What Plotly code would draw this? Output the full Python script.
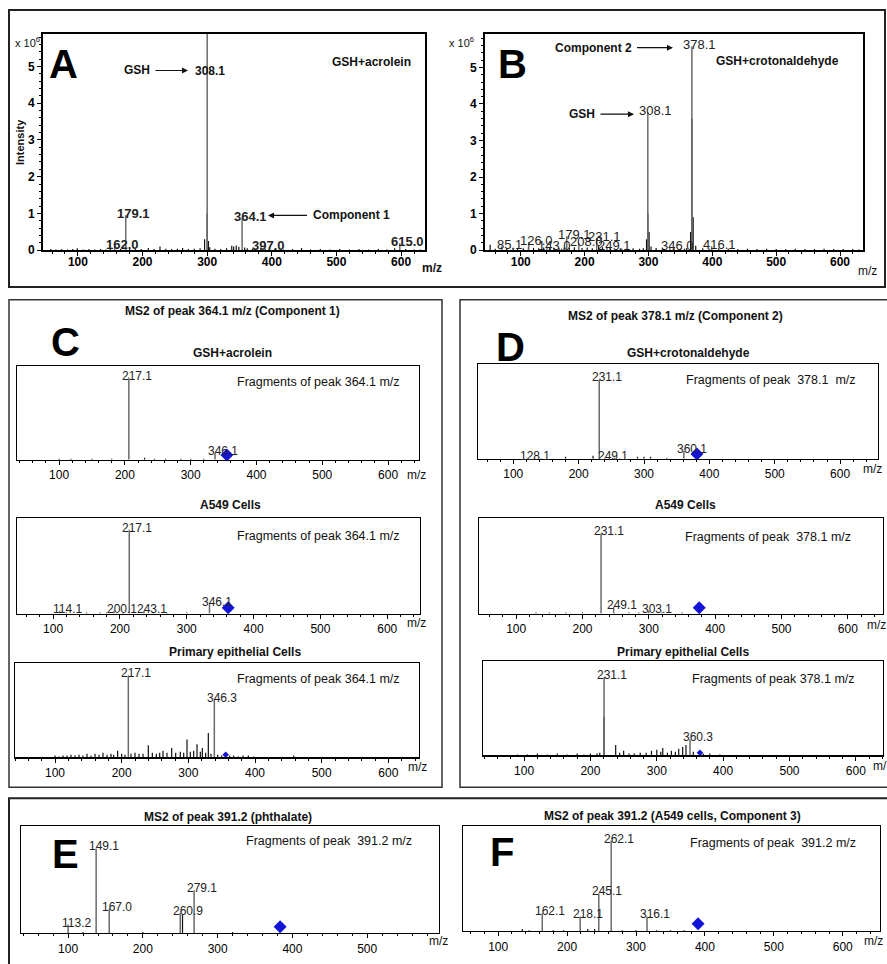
import plotly.graph_objects as go

W, H = 887, 964
FONT = "Arial, Liberation Sans, sans-serif"

# ------------------------------------------------------------------ data
# Panel A  (GSH + acrolein, full scan, intensity x 10^6)
A_mz = [300, 174, 157, 354, 383, 598]
A_int = [5.95, 0.95, 0.11, 0.86, 0.08, 0.19]
A_lab = ["", "179.1", "162.0", "364.1", "397.0", "615.0"]
A_noise = [(58, .03), (66, .02), (75, .03), (84, .02), (92, .03), (99, .05), (108, .02), (117, .03),
           (126, .02), (135, .03), (143, .02), (150, .05), (166, .03), (180, .04), (189, .03), (198, .03),
           (209, .06), (218, .03), (227, .10), (236, .04), (245, .03), (254, .04), (262, .06), (271, .03),
           (280, .04), (289, .05), (296, .30), (300, 1.00), (302, .25), (304, .08), (312, .04), (321, .03),
           (330, .05), (338, .12), (341, .10), (345, .13), (349, .09), (358, .07), (362, .05), (370, .04),
           (390, .03), (405, .03), (418, .02), (432, .03), (446, .06), (460, .02), (475, .03), (490, .02),
           (505, .03), (520, .02), (535, .03), (550, .02), (565, .03), (578, .02), (590, .05), (607, .03),
           (620, .02), (630, .02)]

# Panel B  (GSH + crotonaldehyde)
B_mz = [368, 299, 70, 112.5, 141, 172, 191, 219, 235, 333.5, 399]
B_int = [5.57, 3.77, 0.11, 0.22, 0.08, 0.38, 0.19, 0.33, 0.08, 0.08, 0.11]
B_lab = ["378.1", "308.1", "85.1", "126.0", "143.0", "179.1", "208.0", "231.1", "249.1", "346.0", "416.1"]
B_noise = [(52, .15), (60, .04), (70, .05), (78, .03), (88, .06), (95, .04), (104, .05), (112, .08),
           (120, .06), (128, .05), (136, .07), (145, .05), (152, .06), (160, .05), (168, .07), (176, .06),
           (184, .08), (196, .06), (204, .07), (212, .05), (222, .12), (228, .08), (240, .06), (256, .05),
           (266, .04), (276, .05), (286, .04), (292, .05), (297, .30), (299, 1.0), (301, .50), (304, .10),
           (312, .06), (322, .04), (340, .05), (350, .04), (360, .06), (366, .50), (368, 3.6), (370, .90),
           (374, .12), (385, .05), (395, .04), (410, .05), (425, .04), (440, .03), (455, .04), (470, .03),
           (485, .04), (500, .03), (515, .03), (530, .04), (545, .03), (560, .03), (575, .04), (590, .03),
           (605, .03), (620, .03), (630, .02)]

# Panel C  (MS2 of 364.1, relative intensity)
C1_mz = [206, 337]
C1_int = [0.88, 0.07]
C1_lab = ["217.1", "346.1"]
C1_noise = [(100, .01), (118, .01), (150, .01), (180, .01), (230, .02), (245, .01), (262, .01),
            (285, .01), (300, .01), (320, .01)]
C1_prec = (355, 0.05)

C2_mz = [214, 110, 191, 236, 334]
C2_int = [0.88, 0.03, 0.03, 0.03, 0.10]
C2_lab = ["217.1", "114.1", "200.1", "243.1", "346.1"]
C2_noise = [(120, .01), (150, .01), (170, .01), (180, .01), (205, .01), (250, .01), (270, .01), (300, .01)]
C2_prec = (362, 0.06)

C3_mz = [210, 339]
C3_int = [0.87, 0.61]
C3_lab = ["217.1", "346.3"]
C3_noise = [(100, .02), (106, .01), (112, .02), (118, .02), (124, .03), (130, .02), (136, .03), (142, .02),
            (148, .04), (154, .02), (160, .04), (166, .03), (172, .05), (178, .03), (184, .04), (188, .03),
            (194, .07), (200, .04), (205, .03), (214, .04), (220, .05), (226, .04), (232, .04), (240, .13),
            (246, .05), (252, .04), (257, .05), (262, .07), (268, .05), (275, .10), (281, .05), (288, .06),
            (293, .05), (298, .19), (303, .06), (308, .07), (313, .14), (318, .06), (321, .10), (326, .05),
            (330, .26), (334, .04), (344, .03), (350, .02), (362, .02), (368, .02), (375, .01), (382, .02),
            (390, .02), (398, .01), (458, .02)]
C3_prec = (356, 0.03)

# Panel D  (MS2 of 378.1)
D1_mz = [231.5, 361, 121, 240]
D1_int = [0.84, 0.08, 0.01, 0.01]
D1_lab = ["231.1", "360.1", "128.1", "249.1"]
D1_noise = [(180, .02), (222, .03), (255, .01), (290, .02), (300, .02), (310, .02), (335, .01)]
D1_prec = (381, 0.05)

D2_mz = [228, 247, 300]
D2_int = [0.84, 0.07, 0.03]
D2_lab = ["231.1", "249.1", "303.1"]
D2_noise = [(130, .01), (150, .01), (175, .01), (200, .01), (270, .01), (285, .01), (320, .01), (350, .01)]
D2_prec = (376, 0.06)

D3_mz = [220.5, 350]
D3_int = [0.83, 0.17]
D3_lab = ["231.1", "360.3"]
D3_noise = [(90, .01), (105, .01), (120, .02), (135, .01), (150, .02), (165, .01), (180, .02), (190, .01),
            (200, .02), (210, .02), (214, .03), (220.5, .41), (238, .11), (244, .03), (250, .05), (258, .02),
            (266, .02), (275, .03), (284, .03), (292, .05), (300, .06), (306, .04), (309, .08), (316, .03),
            (322, .05), (328, .04), (333, .07), (339, .09), (344, .11), (355, .04), (370, .02), (380, .02),
            (395, .01)]
D3_prec = (365, 0.03)

# Panel E  (MS2 of 391.2, phthalate)
E_mz = [137.5, 155, 100, 250, 268.5]
E_int = [0.79, 0.23, 0.08, 0.19, 0.40]
E_lab = ["149.1", "167.0", "113.2", "260.9", "279.1"]
E_noise = [(253, .17), (120, .01), (200, .01), (320, .01)]
E_prec = (383.5, 0.06)

# Panel F  (MS2 of 391.2, A549 cells, component 3)
F_mz = [264, 246, 164, 219, 316]
F_int = [0.86, 0.36, 0.17, 0.14, 0.14]
F_lab = ["262.1", "245.1", "162.1", "218.1", "316.1"]
F_noise = [(135, .02), (145, .01), (180, .01), (195, .01), (230, .02), (240, .02), (280, .01),
           (300, .01), (330, .01), (350, .01), (370, .01)]
F_prec = (390, 0.07)

# ------------------------------------------------------------------ layout helpers
def px(x):
    return x / W


def py(y):
    return 1 - y / H


panels = [
    dict(k="A", box=(43, 425, 34, 252), xr=[46, 637], yr=[0, 5.89], mz=A_mz, it=A_int, lab=A_lab,
         noise=A_noise, prec=None, big=True),
    dict(k="B", box=(485, 863, 34, 252), xr=[44, 636], yr=[0, 5.92], mz=B_mz, it=B_int, lab=B_lab,
         noise=B_noise, prec=None, big=True),
    dict(k="C1", box=(17, 419, 369, 463), xr=[36, 647], yr=[0, 1], mz=C1_mz, it=C1_int, lab=C1_lab,
         noise=C1_noise, prec=C1_prec, ps=10),
    dict(k="C2", box=(17, 420, 522, 618), xr=[46, 649], yr=[0, 1], mz=C2_mz, it=C2_int, lab=C2_lab,
         noise=C2_noise, prec=C2_prec, ps=10),
    dict(k="C3", box=(15, 419, 668, 763), xr=[40, 646], yr=[0, 1], mz=C3_mz, it=C3_int, lab=C3_lab,
         noise=C3_noise, prec=C3_prec, ps=5),
    dict(k="D1", box=(478, 878, 367, 462), xr=[46, 658], yr=[0, 1], mz=D1_mz, it=D1_int, lab=D1_lab,
         noise=D1_noise, prec=D1_prec, ps=10),
    dict(k="D2", box=(479, 883, 522, 618), xr=[44, 653], yr=[0, 1], mz=D2_mz, it=D2_int, lab=D2_lab,
         noise=D2_noise, prec=D2_prec, ps=10),
    dict(k="D3", box=(483, 883, 666, 761), xr=[38, 641], yr=[0, 1], mz=D3_mz, it=D3_int, lab=D3_lab,
         noise=D3_noise, prec=D3_prec, ps=5),
    dict(k="E", box=(21, 439, 832, 940), xr=[37, 596], yr=[0, 1], mz=E_mz, it=E_int, lab=E_lab,
         noise=E_noise, prec=E_prec, ps=10),
    dict(k="F", box=(463, 880, 832, 938), xr=[49, 654], yr=[0, 1], mz=F_mz, it=F_int, lab=F_lab,
         noise=F_noise, prec=F_prec, ps=10),
]


def stems(mz, h):
    xs, ys = [], []
    for m, v in zip(mz, h):
        xs += [m, m, None]
        ys += [0, v, None]
    return xs, ys


fig = go.Figure()
annotations = []
layout_axes = {}

for i, p in enumerate(panels):
    n = i + 1
    xa = "x" if n == 1 else f"x{n}"
    ya = "y" if n == 1 else f"y{n}"
    xkey = "xaxis" if n == 1 else f"xaxis{n}"
    ykey = "yaxis" if n == 1 else f"yaxis{n}"
    l, r, t, b = p["box"]
    big = p.get("big", False)
    lw = 1.8 if big else 1.3

    nz = [q[0] for q in p["noise"]]
    nh = [q[1] for q in p["noise"]]
    xs, ys = stems(nz, nh)
    fig.add_trace(go.Scatter(x=xs, y=ys, xaxis=xa, yaxis=ya, mode="lines",
                             line=dict(color="#111", width=1.2), hoverinfo="skip", showlegend=False))
    xs, ys = stems(p["mz"], p["it"])
    fig.add_trace(go.Scatter(x=xs, y=ys, xaxis=xa, yaxis=ya, mode="lines",
                             line=dict(color="#6a6a6a", width=1.5), hoverinfo="skip", showlegend=False))
    if p["prec"] is not None:
        fig.add_trace(go.Scatter(x=[p["prec"][0]], y=[p["prec"][1]], xaxis=xa, yaxis=ya, mode="markers",
                                 marker=dict(symbol="diamond", size=p["ps"], color="#1414d8"),
                                 hoverinfo="skip", showlegend=False, cliponaxis=False))

    for m, v, tx in zip(p["mz"], p["it"], p["lab"]):
        if not tx:
            continue
        annotations.append(dict(text=f"<b>{tx}</b>" if p["k"] == "A" else tx,
                                x=m, y=min(v, p["yr"][1]), xref=xa, yref=ya,
                                showarrow=False, xanchor="center", yanchor="middle",
                                xshift=8, yshift=2,
                                font=dict(family=FONT, size=13 if big else 12, color="#222")))

    tickfont = dict(family=FONT, size=12, color="black", weight="bold" if big else "normal")
    layout_axes[xkey] = dict(domain=[px(l), px(r)], range=p["xr"], anchor=ya, showgrid=False,
                             zeroline=False, showline=True, mirror=True, linecolor="black", linewidth=lw,
                             ticks="outside", tick0=0, dtick=100, ticklen=4, tickwidth=1,
                             tickcolor="black", tickfont=tickfont, fixedrange=True,
                             ticklabelstandoff=-4 if big else 0,
                             minor=dict(dtick=20, ticks="outside", ticklen=2, tickcolor="black"))
    yax = dict(domain=[py(b), py(t)], range=p["yr"], anchor=xa, showgrid=False, zeroline=False,
               showline=True, mirror=True, linecolor="black", linewidth=lw, fixedrange=True)
    if big:
        yax.update(ticks="outside", tick0=0, dtick=1, ticklen=4, tickcolor="black", tickfont=tickfont,
                   minor=dict(dtick=0.2, ticks="outside", ticklen=2, tickcolor="black"))
    else:
        yax.update(showticklabels=False, ticks="")
    layout_axes[ykey] = yax


def ann(text, x, y, size=12, bold=False, xanchor="center", color="#111", **kw):
    annotations.append(dict(text=f"<b>{text}</b>" if bold else text, x=px(x), y=py(y),
                            xref="paper", yref="paper", showarrow=False, xanchor=xanchor,
                            yanchor="middle", font=dict(family=FONT, size=size, color=color), **kw))


def arrow_label(text, text_x, head_x, y, size=12):
    annotations.append(dict(text=f"<b>{text}</b>", x=px(head_x), y=py(y), xref="paper", yref="paper",
                            showarrow=True, ax=text_x - head_x, ay=0, arrowhead=2, arrowsize=1.1,
                            arrowwidth=1.1, arrowcolor="#111", standoff=0, startstandoff=4,
                            font=dict(family=FONT, size=size, color="#111")))


# Panel A texts
ann("x 10<sup>6</sup>", 27, 42, size=11)
ann("A", 63, 64, size=40, bold=True, color="black")
arrow_label("GSH", 137, 188, 71)
ann("308.1", 210, 72, size=12, bold=True)
ann("GSH+acrolein", 371, 62, size=12, bold=True)
arrow_label("Component 1", 351, 268, 217)
ann("Intensity", 20, 143, size=11, bold=True, textangle=-90)
ann("m/z", 432, 270, size=12, bold=True)

# Panel B texts
ann("x 10<sup>6</sup>", 462, 42, size=11)
ann("B", 512, 64, size=40, bold=True, color="black")
arrow_label("Component 2", 593, 673, 48)
ann("GSH+crotonaldehyde", 777, 61, size=12, bold=True)
arrow_label("GSH", 582, 634, 115)
ann("m/z", 867, 273, size=12)

# Panel C texts
ann("MS2 of peak 364.1 m/z (Component 1)", 232, 313, size=12, bold=True)
ann("C", 65, 345, size=40, bold=True, color="black")
ann("GSH+acrolein", 232, 356, size=12, bold=True)
ann("Fragments of peak 364.1 m/z", 402, 385, size=12.5, xanchor="right")
ann("m/z", 416, 478, size=12)
ann("A549 Cells", 230, 509, size=12, bold=True)
ann("Fragments of peak 364.1 m/z", 402, 540, size=12.5, xanchor="right")
ann("m/z", 416, 628, size=12)
ann("Primary epithelial Cells", 235, 657, size=12, bold=True)
ann("Fragments of peak 364.1 m/z", 402, 684, size=12.5, xanchor="right")
ann("m/z", 417, 773, size=12)

# Panel D texts
ann("MS2 of peak 378.1 m/z (Component 2)", 675, 318, size=12, bold=True)
ann("D", 510, 350, size=40, bold=True, color="black")
ann("GSH+crotonaldehyde", 688, 356, size=12, bold=True)
ann("Fragments of peak  378.1  m/z", 858, 383, size=12.5, xanchor="right")
ann("m/z", 872, 472, size=12)
ann("A549 Cells", 685, 509, size=12, bold=True)
ann("Fragments of peak  378.1 m/z", 853, 541, size=12.5, xanchor="right")
ann("m/z", 876, 630, size=12)
ann("Primary epithelial Cells", 683, 657, size=12, bold=True)
ann("Fragments of peak 378.1 m/z", 857, 684, size=12.5, xanchor="right")
ann("m/", 880, 772, size=12)

# Panel E / F texts
ann("MS2 of peak 391.2 (phthalate)", 228, 823, size=12, bold=True)
ann("E", 65, 860, size=40, bold=True, color="black")
ann("Fragments of peak  391.2 m/z", 414, 847, size=12.5, xanchor="right")
ann("m/z", 438, 948, size=12)
ann("MS2 of peak 391.2 (A549 cells, Component 3)", 672, 822, size=12, bold=True)
ann("F", 502, 858, size=40, bold=True, color="black")
ann("Fragments of peak  391.2 m/z", 858, 849, size=12.5, xanchor="right")
ann("m/z", 873, 948, size=12)

# frames
shapes = []
for (x0, x1, y0, y1, w, c) in [(9, 885, 10, 289, 2, "#222"), (9, 442, 302, 793, 1.5, "#333"),
                               (460, 895, 302, 793, 1.5, "#333"), (9, 895, 804, 975, 2, "#222")]:
    shapes.append(dict(type="rect", xref="paper", yref="paper", x0=px(x0), x1=px(x1),
                       y0=py(y1), y1=py(y0), line=dict(color=c, width=w), layer="below"))

fig.update_layout(width=W, height=H, autosize=False, margin=dict(l=0, r=0, t=0, b=0),
                  paper_bgcolor="white", plot_bgcolor="white", showlegend=False,
                  annotations=annotations, shapes=shapes, font=dict(family=FONT),
                  **layout_axes)

fig.write_html("out.html", config={"displayModeBar": False, "staticPlot": True},
               post_script="document.body.style.margin='0';document.body.style.overflow='hidden';")
